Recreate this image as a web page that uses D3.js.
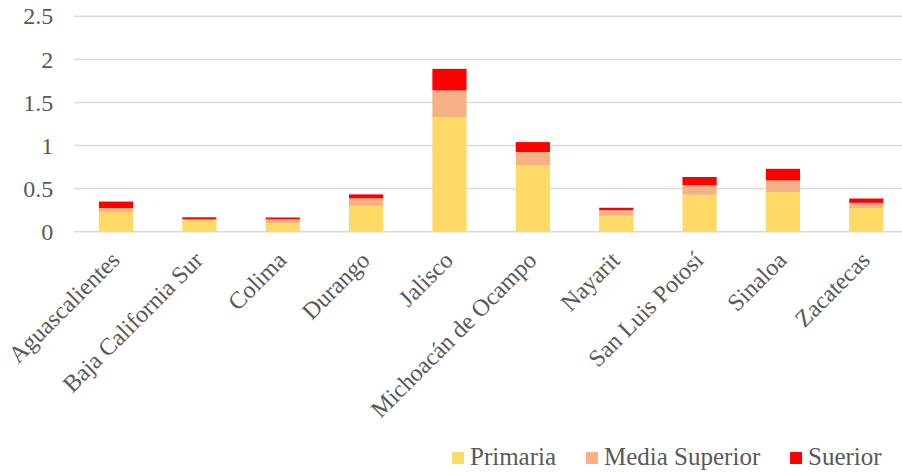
<!DOCTYPE html>
<html>
<head>
<meta charset="utf-8">
<script src="https://cdn.jsdelivr.net/npm/d3@7"></script>
<style>
  body { margin: 0; background: #fff; }
</style>
</head>
<body>
<div id="chart"></div>
<script>
// data
var estados = ["Aguascalientes", "Baja California Sur", "Colima", "Durango", "Jalisco",
  "Michoacán de Ocampo", "Nayarit", "San Luis Potosí", "Sinaloa", "Zacatecas"];
var primaria = [0.23, 0.135, 0.10, 0.30, 1.33, 0.77, 0.185, 0.43, 0.46, 0.275];
var mediaSuperior = [0.045, 0.012, 0.045, 0.087, 0.31, 0.155, 0.066, 0.11, 0.135, 0.06];
var superior = [0.075, 0.02, 0.02, 0.046, 0.25, 0.115, 0.027, 0.095, 0.135, 0.05];
var series = ["Primaria", "Media Superior", "Suerior"];
var colores = ["#FFD966", "#F4B183", "#FF0000"];
var yTicks = [0, 0.5, 1, 1.5, 2, 2.5];

var FONT = "'Liberation Serif', 'Times New Roman', serif";
var W = 902, H = 473;
var margin = { top: 16.3, right: -6, bottom: 241.3, left: 74.3 },
  width = W - margin.left - margin.right,
  height = H - margin.top - margin.bottom;

var rows = estados.map(function(e, i) {
  return { estado: e, Primaria: primaria[i], "Media Superior": mediaSuperior[i], Suerior: superior[i] };
});

var x = d3.scaleBand().domain(estados).range([0, width]).paddingInner(0.59).paddingOuter(0.295);
var y = d3.scaleLinear().domain([0, 2.5]).range([height, 0]);
var color = d3.scaleOrdinal().domain(series).range(colores);

var svg = d3.select("#chart").append("svg")
  .attr("width", W)
  .attr("height", H)
  .style("font-family", FONT);

var g = svg.append("g")
  .attr("transform", "translate(" + margin.left + "," + margin.top + ")");

// gridlines
g.selectAll(".grid")
  .data(yTicks)
  .enter()
  .append("line")
  .attr("x1", 0)
  .attr("x2", width)
  .attr("y1", function(d) { return y(d); })
  .attr("y2", function(d) { return y(d); })
  .attr("stroke", "#d9d9d9")
  .attr("stroke-width", 1.5);

// y axis labels
var yAxis = g.append("g")
  .call(d3.axisLeft(y).tickValues(yTicks).tickSize(0).tickPadding(21).tickFormat(d3.format("")));
yAxis.select(".domain").remove();
yAxis.selectAll("text")
  .style("font-size", "24px")
  .style("font-family", FONT)
  .attr("fill", "#595959");

// stacked bars
var stacked = d3.stack().keys(series)(rows);
g.selectAll(".serie")
  .data(stacked)
  .enter()
  .append("g")
  .attr("fill", function(d) { return color(d.key); })
  .selectAll("rect")
  .data(function(d) { return d; })
  .enter()
  .append("rect")
  .attr("x", function(d) { return x(d.data.estado); })
  .attr("width", x.bandwidth())
  .attr("y", function(d) { return y(d[1]); })
  .attr("height", function(d) { return y(d[0]) - y(d[1]); });

// x labels rotated
var xAxis = g.append("g")
  .attr("transform", "translate(0," + height + ")")
  .call(d3.axisBottom(x).tickSize(0).tickPadding(0));
xAxis.select(".domain").remove();
xAxis.selectAll("text")
  .style("font-size", "24px")
  .style("font-family", FONT)
  .attr("fill", "#595959")
  .style("text-anchor", "end")
  .attr("x", 0)
  .attr("y", 0)
  .attr("dy", 0)
  .attr("transform", "translate(" + (x.bandwidth() / 2 - 12) + ",30) rotate(-45)");

// legend
var legendX = [452, 586, 790];
var legend = svg.append("g");
var items = legend.selectAll(".item")
  .data(series)
  .enter()
  .append("g")
  .attr("transform", function(d, i) { return "translate(" + legendX[i] + ",452)"; });
items.append("rect")
  .attr("width", 12)
  .attr("height", 12)
  .attr("fill", function(d) { return color(d); });
items.append("text")
  .attr("x", 18)
  .attr("y", 13)
  .attr("fill", "#595959")
  .style("font-family", FONT)
  .style("font-size", "25px")
  .text(function(d) { return d; });
</script>
</body>
</html>
